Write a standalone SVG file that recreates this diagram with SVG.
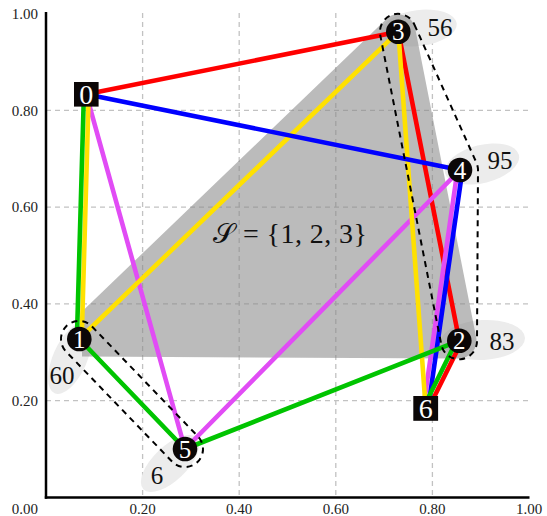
<svg xmlns="http://www.w3.org/2000/svg" width="547" height="516" viewBox="0 0 547 516">
<style>
.grid{stroke:#c2c2c2;stroke-width:1.3;stroke-dasharray:5,4;fill:none}
.tick{font-family:"Liberation Serif","DejaVu Serif",serif;font-size:15px;fill:#222}
.bubble{fill:#ececec}
.num{font-family:"Liberation Serif","DejaVu Serif",serif;font-size:25px;fill:#111;text-anchor:middle}
.e{stroke-width:4.6;stroke-linecap:round;fill:none}
.red{stroke:#ff0000}.blue{stroke:#0000ff}.yel{stroke:#ffe100}.grn{stroke:#00c400}.mag{stroke:#e14cf5}
.dash{fill:none;stroke:#000;stroke-width:2;stroke-dasharray:6,5}
.nd{fill:#0b0707}
.nl{font-family:"Liberation Serif","DejaVu Serif",serif;font-size:25px;fill:#fff;text-anchor:middle}
.nls{font-family:"Liberation Serif","DejaVu Serif",serif;font-size:28px;fill:#fff;text-anchor:middle}
</style>
<rect width="547" height="516" fill="#fff"/>
<g id="grid">
<line class="grid" x1="142.6" y1="13" x2="142.6" y2="497"/>
<line class="grid" x1="239.2" y1="13" x2="239.2" y2="497"/>
<line class="grid" x1="335.8" y1="13" x2="335.8" y2="497"/>
<line class="grid" x1="432.4" y1="13" x2="432.4" y2="497"/>
<line class="grid" x1="46" y1="110.3" x2="529" y2="110.3"/>
<line class="grid" x1="46" y1="207.1" x2="529" y2="207.1"/>
<line class="grid" x1="46" y1="303.9" x2="529" y2="303.9"/>
<line class="grid" x1="46" y1="400.7" x2="529" y2="400.7"/>
</g>
<g id="label-bubbles">
<ellipse class="bubble" cx="0" cy="0" rx="38" ry="17" transform="translate(70,358.5) rotate(-66)"/>
<ellipse class="bubble" cx="0" cy="0" rx="37" ry="17" transform="translate(170,463.5) rotate(-44)"/>
<ellipse class="bubble" cx="0" cy="0" rx="38" ry="18" transform="translate(419,28) rotate(-7)"/>
<ellipse class="bubble" cx="0" cy="0" rx="38" ry="19" transform="translate(482,164) rotate(-14)"/>
<ellipse class="bubble" cx="0" cy="0" rx="42" ry="20" transform="translate(483,340) rotate(-3)"/>
</g>
<g id="set-S">
<path d="M82,311.5 L385.9,19.4 A17.5 17.5 0 0 1 415.2,28.6 L476.2,337.6 A17.5 17.5 0 0 1 458.9,358.5 L82,356.6 Z" fill="#888" fill-opacity="0.57"/>
<text x="213" y="242.5" font-family="'Liberation Serif','DejaVu Serif',serif" font-size="28" fill="#111" textLength="154" lengthAdjust="spacing"><tspan font-family="'DejaVu Sans','Noto Sans',serif">𝒮</tspan> = {1, 2, 3}</text>
</g>
<g id="axes" stroke="#000" stroke-width="2.5" fill="none">
<line x1="46" y1="12" x2="46" y2="498.7"/>
<line x1="44.8" y1="497.5" x2="529.5" y2="497.5"/>
</g>
<g id="ticks">
<text class="tick" x="38" y="19" text-anchor="end">1.00</text>
<text class="tick" x="38" y="115.5" text-anchor="end">0.80</text>
<text class="tick" x="38" y="212.3" text-anchor="end">0.60</text>
<text class="tick" x="38" y="309.1" text-anchor="end">0.40</text>
<text class="tick" x="38" y="405.9" text-anchor="end">0.20</text>
<text class="tick" x="38" y="513.5" text-anchor="end">0.00</text>
<text class="tick" x="142.6" y="513.5" text-anchor="middle">0.20</text>
<text class="tick" x="239.2" y="513.5" text-anchor="middle">0.40</text>
<text class="tick" x="335.8" y="513.5" text-anchor="middle">0.60</text>
<text class="tick" x="432.4" y="513.5" text-anchor="middle">0.80</text>
<text class="tick" x="529" y="513.5" text-anchor="middle">1.00</text>
</g>
<g id="connectors">
<line class="e red" x1="86.3" y1="94.3" x2="398.3" y2="31.7"/>
<line class="e red" x1="398.3" y1="31.7" x2="459.3" y2="340.7"/>
<line class="e red" x1="461.5" y1="341.8" x2="427.9" y2="409.4"/>
<line class="e mag" x1="86.3" y1="94.3" x2="185" y2="449"/>
<line class="e mag" x1="185" y1="449" x2="460" y2="170"/>
<line class="e mag" x1="457.6" y1="169.7" x2="423.3" y2="408"/>
<line class="e yel" x1="88.7" y1="94.4" x2="81.7" y2="339.1"/>
<line class="e yel" x1="79.3" y1="339" x2="398.3" y2="31.7"/>
<line class="e yel" x1="398.3" y1="31.7" x2="425.7" y2="408.3"/>
<line class="e blue" x1="86.3" y1="94.3" x2="460" y2="170"/>
<line class="e blue" x1="462.4" y1="170.3" x2="428.1" y2="408.6"/>
<line class="e grn" x1="83.9" y1="94.2" x2="76.9" y2="338.9"/>
<line class="e grn" x1="79.3" y1="339" x2="185" y2="449"/>
<line class="e grn" x1="185" y1="449" x2="459.3" y2="340.7"/>
<line class="e grn" x1="457.2" y1="339.6" x2="423.6" y2="407.2"/>
</g>
<g id="clusters">
<path class="dash" d="M92,326.5 L198,436.5 A18 18 0 0 1 172,461.5 L66,351.5 A18 18 0 0 1 92,326.5 Z"/>
<path class="dash" d="M414.4,24.6 L476.4,162.6 A18 18 0 0 1 478,170.1 L477,341.1 A18 18 0 0 1 441.3,344.5 L380.3,35.5 A18 18 0 0 1 414.4,24.6 Z"/>
</g>
<g id="node0"><rect class="nd" x="74" y="82" width="24.6" height="24.6"/><text class="nls" x="86.3" y="103.8">0</text></g>
<g id="node1"><circle class="nd" cx="79.3" cy="339" r="12.3"/><text class="nl" x="79.3" y="347.5">1</text></g>
<g id="node2"><circle class="nd" cx="459.3" cy="340.7" r="12.3"/><text class="nl" x="459.3" y="349.2">2</text></g>
<g id="node3"><circle class="nd" cx="398.3" cy="31.7" r="12.3"/><text class="nl" x="398.3" y="40.2">3</text></g>
<g id="node4"><circle class="nd" cx="460" cy="170" r="12.3"/><text class="nl" x="460" y="178.5">4</text></g>
<g id="node5"><circle class="nd" cx="185" cy="449" r="12.3"/><text class="nl" x="185" y="457.5">5</text></g>
<g id="node6"><rect class="nd" x="413.3" y="396" width="24.8" height="24.8"/><text class="nls" x="425.7" y="417.8">6</text></g>
<g id="labels">
<text class="num" x="62" y="384">60</text>
<text class="num" x="157" y="484">6</text>
<text class="num" x="440" y="35.5">56</text>
<text class="num" x="500" y="168.5">95</text>
<text class="num" x="502" y="349.5">83</text>
</g>
</svg>
